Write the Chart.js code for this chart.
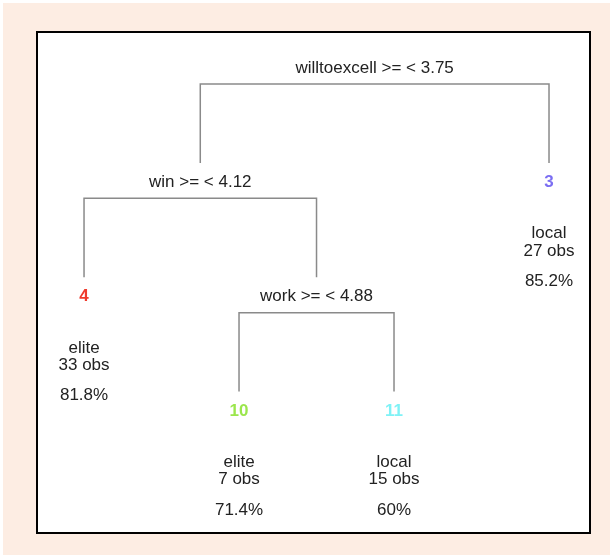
<!DOCTYPE html>
<html>
<head>
<meta charset="utf-8">
<script src="https://cdn.jsdelivr.net/npm/chart.js@4/dist/chart.umd.min.js"></script>
<style>
  html, body { margin: 0; padding: 0; background: #fff; }
  #outer { position: absolute; left: 3px; top: 3px; width: 607px; height: 552px; background: #fdede3; }
  #frame { position: absolute; left: 33px; top: 28px; width: 551px; height: 499px; border: 2px solid #000; background: #fff; }
  #tree { display: block; }
</style>
</head>
<body>
<div id="outer">
  <div id="frame"><canvas id="tree" width="551" height="499"></canvas></div>
</div>
<script>
// rpart-style node ids: children of n are 2n and 2n+1
const splitNodes = [1, 2, 5];
const splitLabels = ['willtoexcell >= < 3.75', 'win >= < 4.12', 'work >= < 4.88'];
const leafNodes = [4, 10, 11, 3];          // left-to-right order
const leafClass = ['elite', 'elite', 'local', 'local'];
const leafObs = [33, 7, 15, 27];
const leafPct = ['81.8%', '71.4%', '60%', '85.2%'];
const leafColors = ['#ef3a2c', '#9be64c', '#7ff2f6', '#7b6ef2'];

const depthOf = id => Math.floor(Math.log2(id));

// leaves sit at 1..n, splits at the middle of their children
const nodeX = {};
leafNodes.forEach((id, i) => { nodeX[id] = i + 1; });
function xOf(id) {
    if (nodeX[id] === undefined) nodeX[id] = (xOf(2 * id) + xOf(2 * id + 1)) / 2;
    return nodeX[id];
}
splitNodes.forEach(xOf);

const BAR_DROP = 0.14;    // bar sits just under the split label
const LINE_GAP = 0.17;    // vertical stops above the child label

const edgeSets = splitNodes.map(id => {
    const d = depthOf(id);
    const l = 2 * id, r = 2 * id + 1;
    return {
        data: [
            { x: nodeX[l], y: d + 1 - LINE_GAP },
            { x: nodeX[l], y: d + BAR_DROP },
            { x: nodeX[r], y: d + BAR_DROP },
            { x: nodeX[r], y: d + 1 - LINE_GAP }
        ],
        showLine: true,
        borderColor: '#8a8a8a',
        borderWidth: 1.5,
        pointRadius: 0,
        tension: 0
    };
});

const FONT = '17px "Liberation Sans", Arial, sans-serif';

const labelPlugin = {
    id: 'treeLabels',
    afterDatasetsDraw(chart) {
        const ctx = chart.ctx;
        const xs = chart.scales.x, ys = chart.scales.y;
        ctx.save();
        ctx.textAlign = 'center';
        ctx.textBaseline = 'middle';
        ctx.font = FONT;
        ctx.fillStyle = '#222';
        splitNodes.forEach((id, i) => {
            ctx.fillText(splitLabels[i], xs.getPixelForValue(nodeX[id]), ys.getPixelForValue(depthOf(id)));
        });
        leafNodes.forEach((id, i) => {
            const px = xs.getPixelForValue(nodeX[id]);
            const d = depthOf(id);
            ctx.font = 'bold ' + FONT;
            ctx.fillStyle = leafColors[i];
            ctx.fillText(String(id), px, ys.getPixelForValue(d));
            ctx.font = FONT;
            ctx.fillStyle = '#222';
            ctx.fillText(leafClass[i], px, ys.getPixelForValue(d + 0.45));
            ctx.fillText(leafObs[i] + ' obs', px, ys.getPixelForValue(d + 0.6));
            ctx.fillText(leafPct[i], px, ys.getPixelForValue(d + 0.865));
        });
        ctx.restore();
    }
};

new Chart(document.getElementById('tree'), {
    type: 'scatter',
    data: { datasets: edgeSets },
    options: {
        responsive: false,
        animation: false,
        layout: { padding: 0 },
        plugins: { legend: { display: false }, tooltip: { enabled: false } },
        scales: {
            x: { type: 'linear', display: false, min: 0.703, max: 4.258 },
            y: { type: 'linear', display: false, reverse: true, min: -0.306, max: 4.058 }
        }
    },
    plugins: [labelPlugin]
});
</script>
</body>
</html>
